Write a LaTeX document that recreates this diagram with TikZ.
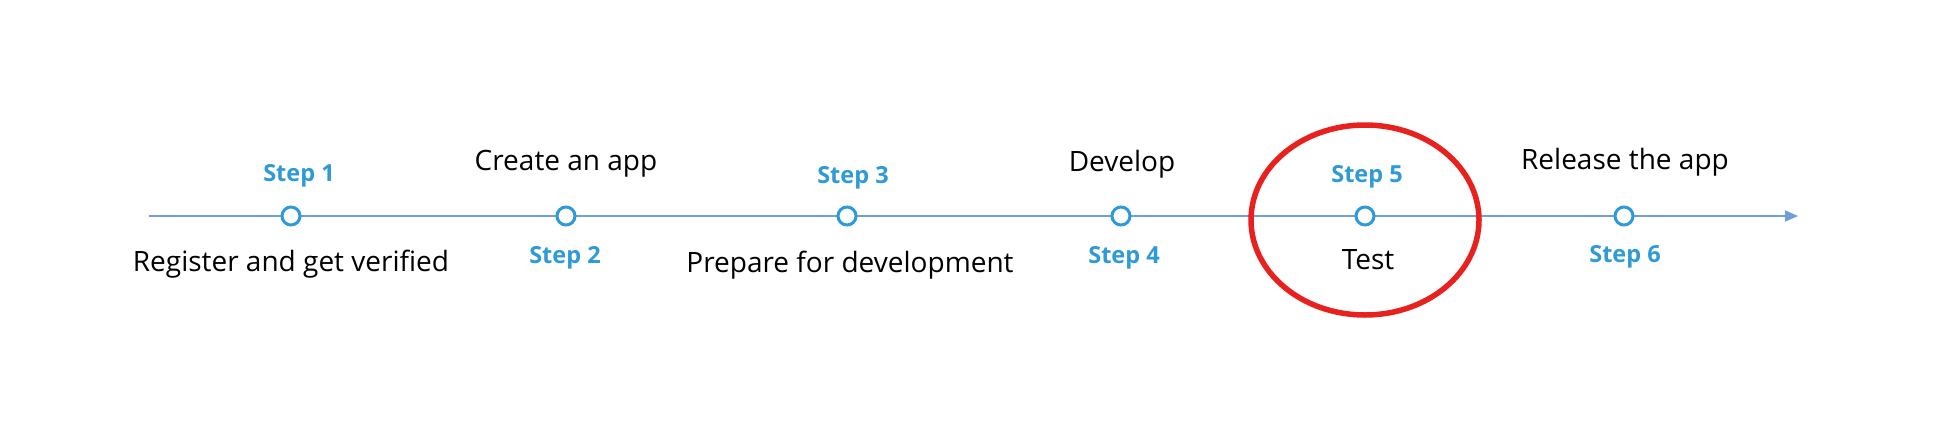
\documentclass[tikz,border=0pt]{standalone}
\usepackage{fontspec}
\setmainfont{Open Sans}
\usetikzlibrary{arrows.meta}
\definecolor{stepblue}{RGB}{46,154,214}
\definecolor{lineblue}{RGB}{110,160,215}
\definecolor{markred}{RGB}{232,32,30}
\tikzset{
  stepdot/.style={circle, draw=stepblue, line width=3pt, fill=white, minimum size=18pt, inner sep=0pt},
  steplabel/.style={text=stepblue, font=\fontsize{23.5}{23.5}\selectfont\bfseries, anchor=base, inner sep=0pt},
  desclabel/.style={text=black, font=\fontsize{28}{28}\selectfont, anchor=base, inner sep=0pt},
  timeline/.style={draw=lineblue, line width=1.6pt, -{Triangle[length=13pt,width=11pt]}},
  highlight/.style={draw=markred, line width=5.5pt}
}
\begin{document}
\begin{tikzpicture}[x=1pt,y=-1pt]
\useasboundingbox[fill=white] (0,0) rectangle (1944,440);
\coordinate (start) at (149,216);
\coordinate (end) at (1798,216);
\draw[timeline] (start) -- (end);
% red highlight
\draw[highlight] (1365,220) ellipse [x radius=114, y radius=95];
% circles
\node[stepdot] (c1) at (291,216) {};
\node[stepdot] (c2) at (566,216) {};
\node[stepdot] (c3) at (847,216) {};
\node[stepdot] (c4) at (1121,216) {};
\node[stepdot] (c5) at (1365,216) {};
\node[stepdot] (c6) at (1624,216) {};
% step labels
\node[steplabel] (s1) at (299,181) {Step 1};
\node[steplabel] (s2) at (565,263) {Step 2};
\node[steplabel] (s3) at (853,183) {Step 3};
\node[steplabel] (s4) at (1124,263) {Step 4};
\node[steplabel] (s5) at (1367,182) {Step 5};
\node[steplabel] (s6) at (1625,262) {Step 6};
% descriptions
\node[desclabel] (t1) at (291,271) {Register and get verified};
\node[desclabel] (t2) at (566,170) {Create an app};
\node[desclabel] (t3) at (850,272) {Prepare for development};
\node[desclabel] (t4) at (1122,171) {Develop};
\node[desclabel] (t5) at (1368,269) {Test};
\node[desclabel] (t6) at (1625,169) {Release the app};
\end{tikzpicture}
\end{document}
